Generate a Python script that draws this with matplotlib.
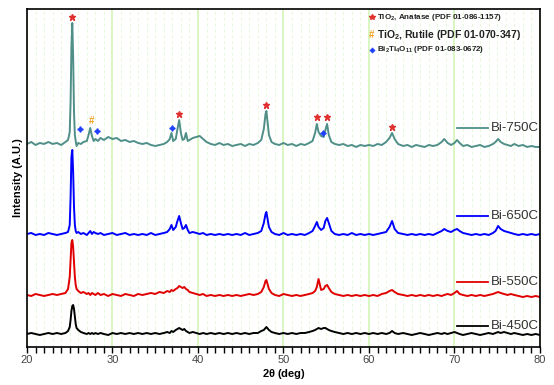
import matplotlib
matplotlib.use('Agg')
import matplotlib.pyplot as plt
from matplotlib.lines import Line2D
from matplotlib.ticker import MultipleLocator

plt.rcParams['font.family'] = ['Liberation Sans', 'DejaVu Sans']
plt.rcParams['mathtext.fontset'] = 'custom'
plt.rcParams['mathtext.rm'] = 'Liberation Sans:bold'
plt.rcParams['mathtext.default'] = 'rm'

# 2theta grid (deg) shared by all four patterns
two_theta = [
    20.0, 20.5, 21.0, 21.5, 22.0, 22.5, 23.0, 23.5, 24.0, 24.5,
    24.8, 25.0, 25.1, 25.2, 25.3, 25.4, 25.5, 25.6, 25.7, 25.8,
    26.0, 26.3, 26.6, 27.0, 27.2, 27.4, 27.6, 27.8, 28.0, 28.3,
    28.6, 29.0, 29.5, 30.0, 30.5, 31.0, 31.5, 32.0, 32.5, 33.0,
    33.5, 34.0, 34.5, 35.0, 35.5, 36.0, 36.4, 36.7, 36.9, 37.1,
    37.4, 37.6, 37.8, 38.0, 38.2, 38.4, 38.6, 38.8, 39.0, 39.4,
    39.8, 40.2, 40.6, 41.0, 41.5, 42.0, 42.5, 43.0, 43.5, 44.0,
    44.5, 45.0, 45.5, 46.0, 46.5, 47.0, 47.4, 47.7, 47.9, 48.0,
    48.1, 48.3, 48.6, 49.0, 49.5, 50.0, 50.5, 51.0, 51.5, 52.0,
    52.5, 53.0, 53.4, 53.7, 53.9, 54.1, 54.4, 54.7, 54.9, 55.1,
    55.3, 55.6, 56.0, 56.5, 57.0, 57.5, 58.0, 58.5, 59.0, 59.5,
    60.0, 60.5, 61.0, 61.5, 62.0, 62.4, 62.7, 63.0, 63.4, 64.0,
    64.5, 65.0, 65.5, 66.0, 66.5, 67.0, 67.5, 68.0, 68.5, 68.8,
    69.2, 69.6, 70.0, 70.3, 70.6, 71.0, 71.5, 72.0, 72.5, 73.0,
    73.5, 74.0, 74.5, 74.8, 75.1, 75.4, 75.8, 76.2, 76.6, 77.0,
    77.5, 78.0, 78.5, 79.0, 79.5, 80.0]

# intensities (A.U., already stacked with offsets)
bi_750 = [
    203, 205, 202, 204, 203, 205, 203, 204, 202, 205,
    207, 215, 245, 300, 324, 290, 235, 212, 206, 201,
    204, 203, 205, 206, 212, 219, 211, 206, 208, 206,
    209, 207, 210, 208, 209, 206, 207, 205, 206, 204,
    203, 204, 202, 201, 202, 203, 205, 208, 214, 206,
    208, 218, 227, 214, 207, 208, 214, 206, 207, 209,
    210, 211, 208, 205, 203, 202, 204, 202, 203, 201,
    202, 203, 201, 203, 202, 204, 207, 218, 233, 236,
    228, 212, 205, 203, 202, 204, 202, 203, 201, 203,
    202, 204, 206, 214, 223, 215, 211, 210, 217, 223,
    212, 205, 203, 202, 203, 201, 202, 200, 202, 201,
    202, 201, 203, 202, 205, 209, 214, 208, 203, 201,
    202, 200, 202, 201, 200, 202, 201, 202, 205, 208,
    204, 202, 204, 207, 204, 201, 202, 200, 201, 202,
    200, 201, 203, 205, 208, 205, 203, 202, 201, 203,
    201, 202, 200, 201, 200, 200]

bi_650 = [
    113, 114, 112, 113, 112, 114, 113, 112, 113, 114,
    115, 122, 150, 190, 197, 175, 140, 122, 116, 114,
    115, 113, 114, 112, 114, 116, 113, 115, 114, 113,
    114, 112, 113, 114, 112, 113, 114, 112, 113, 112,
    113, 112, 114, 112, 113, 114, 115, 118, 122, 117,
    120, 126, 131, 124, 118, 119, 122, 117, 114, 115,
    114, 113, 114, 112, 113, 112, 113, 112, 113, 112,
    113, 112, 114, 112, 113, 114, 116, 124, 133, 135,
    130, 120, 115, 113, 112, 114, 112, 113, 112, 113,
    112, 114, 116, 121, 125, 120, 117, 119, 126, 129,
    124, 116, 113, 112, 113, 112, 114, 112, 113, 112,
    113, 112, 113, 114, 115, 120, 126, 118, 114, 113,
    112, 113, 112, 113, 112, 113, 112, 114, 116, 118,
    116, 115, 117, 118, 116, 114, 113, 112, 113, 112,
    113, 112, 114, 116, 121, 118, 116, 115, 114, 113,
    112, 113, 112, 113, 112, 113]

bi_550 = [
    52, 51, 53, 52, 51, 52, 53, 52, 53, 54,
    58, 70, 88, 104, 107, 100, 84, 70, 62, 58,
    56, 54, 55, 53, 54, 52, 54, 53, 52, 54,
    52, 53, 51, 53, 52, 51, 53, 52, 51, 53,
    52, 53, 54, 53, 55, 54, 56, 55, 57, 56,
    58, 59, 61, 60, 59, 60, 58, 57, 55, 54,
    53, 52, 53, 51, 52, 51, 52, 51, 52, 51,
    52, 51, 52, 53, 52, 53, 55, 60, 66, 67,
    64, 58, 54, 52, 51, 53, 52, 51, 52, 51,
    52, 53, 54, 56, 60, 68, 57, 58, 61, 62,
    59, 55, 53, 52, 51, 52, 51, 52, 51, 52,
    51, 52, 51, 53, 54, 56, 57, 55, 53, 52,
    51, 52, 51, 52, 51, 52, 51, 52, 51, 52,
    53, 52, 54, 56, 53, 52, 51, 52, 51, 52,
    51, 52, 53, 54, 55, 54, 53, 52, 53, 52,
    51, 50, 51, 50, 51, 50]

bi_450 = [
    13, 14, 13, 12, 13, 14, 13, 14, 13, 14,
    16, 20, 27, 36, 41, 42, 38, 30, 23, 19,
    17, 15, 14, 13, 14, 13, 14, 13, 14, 13,
    14, 13, 12, 14, 13, 14, 13, 14, 13, 14,
    13, 14, 13, 14, 13, 14, 15, 14, 16, 15,
    17, 18, 19, 18, 17, 18, 16, 15, 14, 15,
    14, 13, 14, 13, 14, 13, 14, 13, 14, 13,
    14, 13, 14, 13, 14, 14, 16, 17, 19, 20,
    19, 17, 15, 14, 13, 14, 13, 14, 13, 14,
    14, 15, 16, 17, 18, 19, 18, 19, 19, 18,
    17, 16, 15, 14, 13, 14, 13, 14, 13, 14,
    13, 14, 13, 14, 13, 14, 16, 14, 13, 14,
    13, 12, 13, 14, 13, 12, 13, 14, 13, 14,
    13, 14, 15, 14, 13, 12, 13, 14, 13, 12,
    13, 14, 13, 14, 15, 14, 15, 14, 13, 14,
    13, 12, 13, 12, 13, 12]

labels = ['Bi-750C', 'Bi-650C', 'Bi-550C', 'Bi-450C']
colors = ['#4f8f88', '#0000ff', '#e00000', '#000000']

# phase markers (peak position, height of marker)
anatase_x = [25.3, 37.8, 48.0, 53.9, 55.1, 62.7]
anatase_y = [330, 233, 242, 230, 230, 220]
rutile_x = [27.5]
rutile_y = [226]
bito_x = [26.2, 28.15, 37.0, 54.6]
bito_y = [218, 216, 219, 214]


def main():
    fig = plt.figure(figsize=(5.54, 3.85), dpi=100)
    ax = fig.add_axes([0.0487, 0.0987, 0.926, 0.878])

    series = [bi_750, bi_650, bi_550, bi_450]
    for ys, c in zip(series, colors):
        ax.plot(two_theta, ys, color=c, lw=1.4)

    ax.plot(anatase_x, anatase_y, ls='none', marker='*', ms=4.5, color='#e03030')
    for x, y in zip(rutile_x, rutile_y):
        ax.text(x, y, '#', color='#f0a020', fontsize=7, fontweight='bold',
                ha='center', va='center')
    ax.plot(bito_x, bito_y, ls='none', marker=(4, 1, 0), ms=4, color='#2040ff')

    # sample labels on the right
    lab_y = [0.649, 0.388, 0.192, 0.062]
    for lab, c, yy in zip(labels, colors, lab_y):
        ax.add_line(Line2D([0.839, 0.899], [yy, yy], color=c, lw=1.3,
                           transform=ax.transAxes))
        ax.text(0.998, yy, lab, transform=ax.transAxes, ha='right', va='center',
                fontsize=9.5, color='#333333')

    # phase key, top right
    ax.plot([0.6725], [0.976], transform=ax.transAxes, marker='*', ms=4,
            color='#e03030', ls='none')
    ax.text(0.682, 0.976, r'TiO$_2$, Anatase (PDF 01-086-1157)', transform=ax.transAxes,
            fontsize=5.8, fontweight='bold', va='center', color='#222222')
    ax.text(0.6725, 0.923, '#', transform=ax.transAxes, fontsize=7, fontweight='bold',
            color='#f0a020', ha='center', va='center')
    ax.text(0.682, 0.923, r'TiO$_2$, Rutile (PDF 01-070-347)', transform=ax.transAxes,
            fontsize=7.5, fontweight='bold', va='center', color='#222222')
    ax.plot([0.6725], [0.879], transform=ax.transAxes, marker=(4, 1, 0), ms=3.5,
            color='#2040ff', ls='none')
    ax.text(0.682, 0.879, r'Bi$_2$Ti$_4$O$_{11}$ (PDF 01-083-0672)', transform=ax.transAxes,
            fontsize=5.8, fontweight='bold', va='center', color='#222222')

    ax.set_xlim(20, 80)
    ax.set_ylim(0, 338)
    ax.set_yticks([])
    ax.xaxis.set_major_locator(MultipleLocator(10))
    ax.xaxis.set_minor_locator(MultipleLocator(1))
    ax.tick_params(axis='x', which='both', direction='out', length=4, width=1,
                   labelsize=8, labelcolor='#444444', pad=2)
    ax.grid(axis='x', which='major', color='#d2f5b8', lw=1.2)
    ax.grid(axis='x', which='minor', color='#e6f8da', lw=0.7, ls=(0, (3, 3)))
    ax.set_axisbelow(True)
    for sp in ax.spines.values():
        sp.set_linewidth(1.2)

    ax.set_xlabel(r'2$\theta$ (deg)', fontsize=8, fontweight='bold', labelpad=1)
    ax.set_ylabel('Intensity (A.U.)', fontsize=8, fontweight='bold', labelpad=3)

    fig.savefig('out.png', dpi=100)


if __name__ == "__main__":
    main()
